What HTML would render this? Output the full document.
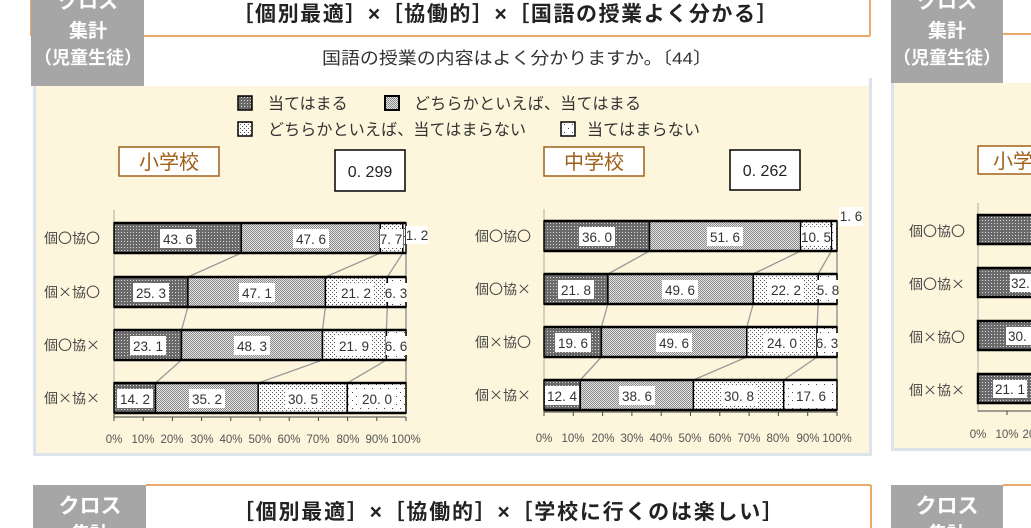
<!DOCTYPE html>
<html><head><meta charset="utf-8"><style>
html,body{margin:0;padding:0;background:#fff;width:1031px;height:528px;overflow:hidden}
svg{display:block}
.j{font-family:"Liberation Sans","Noto Sans CJK JP",sans-serif}
.n{font-family:"Liberation Sans","Noto Sans CJK JP",sans-serif;font-size:13.5px;fill:#333}
.t{font-family:"Liberation Sans","Noto Sans CJK JP",sans-serif;font-size:11.5px;fill:#555}
.r{font-family:"Noto Sans CJK JP",sans-serif;font-size:13.5px;fill:#444}
</style></head><body>
<svg width="1031" height="528" viewBox="0 0 1031 528" xmlns="http://www.w3.org/2000/svg">
<defs>
<pattern id="p1" width="3" height="3" patternUnits="userSpaceOnUse"><rect width="3" height="3" fill="#6a6a6a"/><rect x="1" y="1" width="1" height="1" fill="#d8d8d8"/></pattern>
<pattern id="p2" width="2" height="2" patternUnits="userSpaceOnUse"><rect width="2" height="2" fill="#e6e6e6"/><rect width="1" height="1" fill="#888"/><rect x="1" y="1" width="1" height="1" fill="#888"/></pattern>
<pattern id="p3" width="4" height="4" patternUnits="userSpaceOnUse"><rect width="4" height="4" fill="#fbfbfb"/><rect width="1" height="1" fill="#555"/><rect x="2" y="2" width="1" height="1" fill="#555"/></pattern>
<pattern id="p4" width="8" height="8" patternUnits="userSpaceOnUse"><rect width="8" height="8" fill="#fff"/><rect width="1" height="1" fill="#444"/><rect x="4" y="4" width="1" height="1" fill="#444"/></pattern>
</defs>

<line x1="31" y1="0" x2="31" y2="36" stroke="#e8a96a" stroke-width="2"/>
<line x1="143" y1="36" x2="870" y2="36" stroke="#e8a96a" stroke-width="2"/>
<line x1="870" y1="0" x2="870" y2="36" stroke="#e8a96a" stroke-width="2"/>
<rect x="31" y="0" width="113" height="86" fill="#a6a6a6"/>
<text x="88" y="8" text-anchor="middle" class="j" font-size="20" font-weight="bold" fill="#fff">クロス</text>
<text x="88" y="37" text-anchor="middle" class="j" font-size="19" font-weight="bold" fill="#fff">集計</text>
<text x="88" y="64" text-anchor="middle" class="j" font-size="18" font-weight="bold" fill="#fff">（児童生徒）</text>
<text x="505" y="21" text-anchor="middle" class="j" font-size="21" font-weight="bold" fill="#222" textLength="545" lengthAdjust="spacing">［個別最適］×［協働的］×［国語の授業よく分かる］</text>
<text x="517" y="64" text-anchor="middle" class="j" font-size="17" fill="#333" textLength="390" lengthAdjust="spacingAndGlyphs">国語の授業の内容はよく分かりますか。〔44〕</text>

<rect x="33" y="86" width="838" height="368" fill="#fdf6dc"/>
<rect x="33" y="86" width="3" height="370" fill="#dde3ec"/>
<rect x="33" y="453" width="839" height="3" fill="#dde3ec"/>
<rect x="869" y="78" width="3" height="376" fill="#dde3ec"/>

<rect x="238" y="96" width="14" height="14" fill="url(#p1)" stroke="#000" stroke-width="1.5"/>
<text x="268" y="109" class="j" font-size="16" fill="#333">当てはまる</text>
<rect x="385" y="96" width="14" height="14" fill="url(#p2)" stroke="#000" stroke-width="2"/>
<text x="414" y="109" class="j" font-size="16" fill="#333" textLength="227" lengthAdjust="spacing">どちらかといえば、当てはまる</text>
<rect x="238" y="122" width="14" height="14" fill="url(#p3)" stroke="#000" stroke-width="1.5"/>
<text x="268" y="135" class="j" font-size="16" fill="#333" textLength="258" lengthAdjust="spacing">どちらかといえば、当てはまらない</text>
<rect x="561" y="122" width="14" height="14" fill="url(#p4)" stroke="#000" stroke-width="1.5"/>
<text x="587" y="135" class="j" font-size="16" fill="#333" textLength="113" lengthAdjust="spacing">当てはまらない</text>

<rect x="119" y="147" width="100" height="29" fill="#fff" stroke="#a0601a" stroke-width="1.5"/>
<text x="169" y="169" text-anchor="middle" class="j" font-size="20" fill="#a0601a">小学校</text>
<rect x="335" y="150" width="70" height="41" fill="#fff" stroke="#000" stroke-width="1.5"/>
<text x="370" y="177" text-anchor="middle" class="j" font-size="16" fill="#222">0. 299</text>
<rect x="544" y="147" width="100" height="29" fill="#fff" stroke="#a0601a" stroke-width="1.5"/>
<text x="594" y="169" text-anchor="middle" class="j" font-size="20" fill="#a0601a">中学校</text>
<rect x="730" y="150" width="70" height="40" fill="#fff" stroke="#000" stroke-width="1.5"/>
<text x="765" y="176" text-anchor="middle" class="j" font-size="16" fill="#222">0. 262</text>

<g>
<line x1="114" y1="210" x2="114" y2="417" stroke="#aaa" stroke-width="1"/>
<line x1="406" y1="253" x2="406" y2="383" stroke="#999" stroke-width="1.5"/>
<g stroke="#999" stroke-width="1.3">
<line x1="241.3" y1="253" x2="187.9" y2="277"/><line x1="380.3" y1="253" x2="325.4" y2="277"/><line x1="402.8" y1="253" x2="387.3" y2="277"/>
<line x1="187.9" y1="307" x2="181.5" y2="330"/><line x1="325.4" y1="307" x2="322.5" y2="330"/><line x1="387.3" y1="307" x2="386.4" y2="330"/>
<line x1="181.5" y1="360" x2="155.5" y2="383"/><line x1="322.5" y1="360" x2="258.2" y2="383"/><line x1="386.4" y1="360" x2="347.3" y2="383"/>
</g>
<g stroke="#000" stroke-width="1.5">
<rect x="114" y="223" width="127.3" height="30" fill="url(#p1)"/><rect x="241.3" y="223" width="139" height="30" fill="url(#p2)"/><rect x="380.3" y="223" width="22.5" height="30" fill="url(#p3)"/><rect x="402.8" y="223" width="3.2" height="30" fill="url(#p4)"/>
<rect x="114" y="277" width="73.9" height="30" fill="url(#p1)"/><rect x="187.9" y="277" width="137.5" height="30" fill="url(#p2)"/><rect x="325.4" y="277" width="61.9" height="30" fill="url(#p3)"/><rect x="387.3" y="277" width="18.7" height="30" fill="url(#p4)"/>
<rect x="114" y="330" width="67.5" height="30" fill="url(#p1)"/><rect x="181.5" y="330" width="141" height="30" fill="url(#p2)"/><rect x="322.5" y="330" width="63.9" height="30" fill="url(#p3)"/><rect x="386.4" y="330" width="19.6" height="30" fill="url(#p4)"/>
<rect x="114" y="383" width="41.5" height="30" fill="url(#p1)"/><rect x="155.5" y="383" width="102.7" height="30" fill="url(#p2)"/><rect x="258.2" y="383" width="89.1" height="30" fill="url(#p3)"/><rect x="347.3" y="383" width="58.7" height="30" fill="url(#p4)"/>
</g>
<g stroke="#000" stroke-width="2.5">
<line x1="114" y1="223" x2="406" y2="223"/><line x1="114" y1="253" x2="406" y2="253"/>
<line x1="114" y1="277" x2="406" y2="277"/><line x1="114" y1="307" x2="406" y2="307"/>
<line x1="114" y1="330" x2="406" y2="330"/><line x1="114" y1="360" x2="406" y2="360"/>
<line x1="114" y1="383" x2="406" y2="383"/><line x1="114" y1="413" x2="406" y2="413"/>
</g>
<g fill="#fff">
<rect x="160" y="229" width="36" height="19"/><rect x="293" y="229" width="36" height="19"/><rect x="380" y="229" width="23" height="19"/><rect x="406" y="226" width="22" height="18"/>
<rect x="133" y="283" width="36" height="19"/><rect x="239" y="283" width="36" height="19"/><rect x="338" y="283" width="36" height="19"/><rect x="386" y="283" width="21" height="19"/>
<rect x="130" y="336" width="36" height="19"/><rect x="234" y="336" width="36" height="19"/><rect x="336" y="336" width="36" height="19"/><rect x="386" y="336" width="21" height="19"/>
<rect x="117" y="389" width="36" height="19"/><rect x="189" y="389" width="36" height="19"/><rect x="285" y="389" width="36" height="19"/><rect x="359" y="389" width="36" height="19"/>
</g>
<g class="n" text-anchor="middle">
<text x="178" y="244">43. 6</text><text x="311" y="244">47. 6</text><text x="391" y="244">7. 7</text><text x="417" y="240">1. 2</text>
<text x="151" y="298">25. 3</text><text x="257" y="298">47. 1</text><text x="356" y="298">21. 2</text><text x="396" y="298">6. 3</text>
<text x="148" y="351">23. 1</text><text x="252" y="351">48. 3</text><text x="354" y="351">21. 9</text><text x="396" y="351">6. 6</text>
<text x="135" y="404">14. 2</text><text x="207" y="404">35. 2</text><text x="303" y="404">30. 5</text><text x="377" y="404">20. 0</text>
</g>
<g class="r">
<text x="44" y="243" textLength="56" lengthAdjust="spacingAndGlyphs">個〇協〇</text><text x="44" y="297" textLength="56" lengthAdjust="spacingAndGlyphs">個×協〇</text><text x="44" y="350" textLength="56" lengthAdjust="spacingAndGlyphs">個〇協×</text><text x="44" y="403" textLength="56" lengthAdjust="spacingAndGlyphs">個×協×</text>
</g>
<line x1="114" y1="417" x2="406" y2="417" stroke="#444" stroke-width="1"/>
<g stroke="#444"><line x1="114" y1="413" x2="114" y2="421"/><line x1="143.2" y1="417" x2="143.2" y2="421"/><line x1="172.4" y1="417" x2="172.4" y2="421"/><line x1="201.6" y1="417" x2="201.6" y2="421"/><line x1="230.8" y1="417" x2="230.8" y2="421"/><line x1="260" y1="417" x2="260" y2="421"/><line x1="289.2" y1="417" x2="289.2" y2="421"/><line x1="318.4" y1="417" x2="318.4" y2="421"/><line x1="347.6" y1="417" x2="347.6" y2="421"/><line x1="376.8" y1="417" x2="376.8" y2="421"/><line x1="406" y1="417" x2="406" y2="421"/></g>
<g class="t" text-anchor="middle">
<text x="114" y="443">0%</text><text x="143" y="443">10%</text><text x="172" y="443">20%</text><text x="202" y="443">30%</text><text x="231" y="443">40%</text><text x="260" y="443">50%</text><text x="289" y="443">60%</text><text x="318" y="443">70%</text><text x="348" y="443">80%</text><text x="377" y="443">90%</text><text x="406" y="443">100%</text>
</g>
</g>

<g>
<line x1="544" y1="209" x2="544" y2="412" stroke="#aaa" stroke-width="1"/>
<line x1="837" y1="251" x2="837" y2="380" stroke="#999" stroke-width="1.5"/>
<g stroke="#999" stroke-width="1.3">
<line x1="649.5" y1="251" x2="607.9" y2="274"/><line x1="800.7" y1="251" x2="753.2" y2="274"/><line x1="831.4" y1="251" x2="818.2" y2="274"/>
<line x1="607.9" y1="304" x2="601.4" y2="327"/><line x1="753.2" y1="304" x2="746.8" y2="327"/><line x1="818.2" y1="304" x2="817.1" y2="327"/>
<line x1="601.4" y1="357" x2="580.3" y2="380"/><line x1="746.8" y1="357" x2="693.4" y2="380"/><line x1="817.1" y1="357" x2="783.7" y2="380"/>
</g>
<g stroke="#000" stroke-width="1.5">
<rect x="544" y="221" width="105.5" height="30" fill="url(#p1)"/><rect x="649.5" y="221" width="151.2" height="30" fill="url(#p2)"/><rect x="800.7" y="221" width="30.7" height="30" fill="url(#p3)"/><rect x="831.4" y="221" width="5.6" height="30" fill="url(#p4)"/>
<rect x="544" y="274" width="63.9" height="30" fill="url(#p1)"/><rect x="607.9" y="274" width="145.3" height="30" fill="url(#p2)"/><rect x="753.2" y="274" width="65" height="30" fill="url(#p3)"/><rect x="818.2" y="274" width="18.8" height="30" fill="url(#p4)"/>
<rect x="544" y="327" width="57.4" height="30" fill="url(#p1)"/><rect x="601.4" y="327" width="145.4" height="30" fill="url(#p2)"/><rect x="746.8" y="327" width="70.3" height="30" fill="url(#p3)"/><rect x="817.1" y="327" width="19.9" height="30" fill="url(#p4)"/>
<rect x="544" y="380" width="36.3" height="30" fill="url(#p1)"/><rect x="580.3" y="380" width="113.1" height="30" fill="url(#p2)"/><rect x="693.4" y="380" width="90.3" height="30" fill="url(#p3)"/><rect x="783.7" y="380" width="53.3" height="30" fill="url(#p4)"/>
</g>
<g stroke="#000" stroke-width="2.5">
<line x1="544" y1="221" x2="837" y2="221"/><line x1="544" y1="251" x2="837" y2="251"/>
<line x1="544" y1="274" x2="837" y2="274"/><line x1="544" y1="304" x2="837" y2="304"/>
<line x1="544" y1="327" x2="837" y2="327"/><line x1="544" y1="357" x2="837" y2="357"/>
<line x1="544" y1="380" x2="837" y2="380"/><line x1="544" y1="410" x2="837" y2="410"/>
</g>
<g fill="#fff">
<rect x="579" y="227" width="36" height="19"/><rect x="707" y="227" width="36" height="19"/><rect x="801" y="227" width="30" height="19"/><rect x="839" y="207" width="24" height="19"/>
<rect x="558" y="280" width="36" height="19"/><rect x="662" y="280" width="36" height="19"/><rect x="768" y="280" width="36" height="19"/><rect x="817" y="280" width="21" height="19"/>
<rect x="555" y="333" width="36" height="19"/><rect x="656" y="333" width="36" height="19"/><rect x="764" y="333" width="36" height="19"/><rect x="817" y="333" width="21" height="19"/>
<rect x="545" y="386" width="34" height="19"/><rect x="619" y="386" width="36" height="19"/><rect x="721" y="386" width="36" height="19"/><rect x="793" y="386" width="36" height="19"/>
</g>
<g class="n" text-anchor="middle">
<text x="597" y="242">36. 0</text><text x="725" y="242">51. 6</text><text x="816" y="242">10. 5</text><text x="851" y="221">1. 6</text>
<text x="576" y="295">21. 8</text><text x="680" y="295">49. 6</text><text x="786" y="295">22. 2</text><text x="828" y="295">5. 8</text>
<text x="573" y="348">19. 6</text><text x="674" y="348">49. 6</text><text x="782" y="348">24. 0</text><text x="827" y="348">6. 3</text>
<text x="562" y="401">12. 4</text><text x="637" y="401">38. 6</text><text x="739" y="401">30. 8</text><text x="811" y="401">17. 6</text>
</g>
<g class="r">
<text x="475" y="241" textLength="56" lengthAdjust="spacingAndGlyphs">個〇協〇</text><text x="475" y="294" textLength="56" lengthAdjust="spacingAndGlyphs">個〇協×</text><text x="475" y="347" textLength="56" lengthAdjust="spacingAndGlyphs">個×協〇</text><text x="475" y="400" textLength="56" lengthAdjust="spacingAndGlyphs">個×協×</text>
</g>
<line x1="544" y1="412" x2="837" y2="412" stroke="#444" stroke-width="1"/>
<g stroke="#444"><line x1="544" y1="410" x2="544" y2="416"/><line x1="573.3" y1="412" x2="573.3" y2="416"/><line x1="602.6" y1="412" x2="602.6" y2="416"/><line x1="631.9" y1="412" x2="631.9" y2="416"/><line x1="661.2" y1="412" x2="661.2" y2="416"/><line x1="690.5" y1="412" x2="690.5" y2="416"/><line x1="719.8" y1="412" x2="719.8" y2="416"/><line x1="749.1" y1="412" x2="749.1" y2="416"/><line x1="778.4" y1="412" x2="778.4" y2="416"/><line x1="807.7" y1="412" x2="807.7" y2="416"/><line x1="837" y1="412" x2="837" y2="416"/></g>
<g class="t" text-anchor="middle">
<text x="544" y="442">0%</text><text x="573" y="442">10%</text><text x="603" y="442">20%</text><text x="632" y="442">30%</text><text x="661" y="442">40%</text><text x="690" y="442">50%</text><text x="720" y="442">60%</text><text x="749" y="442">70%</text><text x="778" y="442">80%</text><text x="808" y="442">90%</text><text x="837" y="442">100%</text>
</g>
</g>

<line x1="1003" y1="34" x2="1031" y2="34" stroke="#e8a96a" stroke-width="2"/>
<rect x="891" y="0" width="112" height="83" fill="#a6a6a6"/>
<text x="947" y="8" text-anchor="middle" class="j" font-size="20" font-weight="bold" fill="#fff">クロス</text>
<text x="947" y="37" text-anchor="middle" class="j" font-size="19" font-weight="bold" fill="#fff">集計</text>
<text x="947" y="64" text-anchor="middle" class="j" font-size="18" font-weight="bold" fill="#fff">（児童生徒）</text>
<rect x="891" y="83" width="140" height="367" fill="#fdf6dc"/>
<rect x="891" y="83" width="3" height="367" fill="#dde3ec"/>
<rect x="891" y="448" width="140" height="3" fill="#dde3ec"/>
<rect x="978" y="146" width="70" height="28" fill="#fff" stroke="#a0601a" stroke-width="1.5"/>
<text x="993" y="168" class="j" font-size="20" fill="#a0601a">小学</text>
<line x1="978" y1="203" x2="978" y2="412" stroke="#aaa"/>
<g stroke="#000" stroke-width="2.5">
<rect x="978" y="215" width="60" height="29" fill="url(#p1)"/>
<rect x="978" y="268" width="60" height="29" fill="url(#p1)"/>
<rect x="978" y="321" width="60" height="29" fill="url(#p1)"/>
<rect x="978" y="374" width="60" height="29" fill="url(#p1)"/>
</g>
<g fill="#fff"><rect x="1010" y="274" width="22" height="18"/><rect x="1006" y="327" width="26" height="18"/><rect x="993" y="380" width="34" height="18"/></g>
<g class="n"><text x="1011" y="288">32.</text><text x="1008" y="341">30.</text><text x="995" y="394">21. 1</text></g>
<g class="r">
<text x="909" y="236" textLength="56" lengthAdjust="spacingAndGlyphs">個〇協〇</text><text x="909" y="289" textLength="56" lengthAdjust="spacingAndGlyphs">個〇協×</text><text x="909" y="342" textLength="56" lengthAdjust="spacingAndGlyphs">個×協〇</text><text x="909" y="395" textLength="56" lengthAdjust="spacingAndGlyphs">個×協×</text>
</g>
<line x1="978" y1="411" x2="1031" y2="411" stroke="#444"/>
<line x1="1007" y1="411" x2="1007" y2="415" stroke="#444"/>
<g class="t" text-anchor="middle"><text x="978" y="438">0%</text><text x="1007" y="438">10%</text><text x="1034" y="438">20%</text></g>

<line x1="146" y1="485" x2="871" y2="485" stroke="#e8a96a" stroke-width="2"/>
<line x1="871" y1="485" x2="871" y2="528" stroke="#e8a96a" stroke-width="2"/>
<rect x="33" y="485" width="113" height="43" fill="#a6a6a6"/>
<text x="90" y="513" text-anchor="middle" class="j" font-size="21" font-weight="bold" fill="#fff">クロス</text>
<text x="90" y="540" text-anchor="middle" class="j" font-size="19" font-weight="bold" fill="#fff">集計</text>
<text x="508" y="519" text-anchor="middle" class="j" font-size="21" font-weight="bold" fill="#222" textLength="550" lengthAdjust="spacing">［個別最適］×［協働的］×［学校に行くのは楽しい］</text>
<line x1="1003" y1="485" x2="1031" y2="485" stroke="#e8a96a" stroke-width="2"/>
<rect x="891" y="485" width="112" height="43" fill="#a6a6a6"/>
<text x="947" y="513" text-anchor="middle" class="j" font-size="21" font-weight="bold" fill="#fff">クロス</text>
<text x="947" y="540" text-anchor="middle" class="j" font-size="19" font-weight="bold" fill="#fff">集計</text>
</svg>
</body></html>
